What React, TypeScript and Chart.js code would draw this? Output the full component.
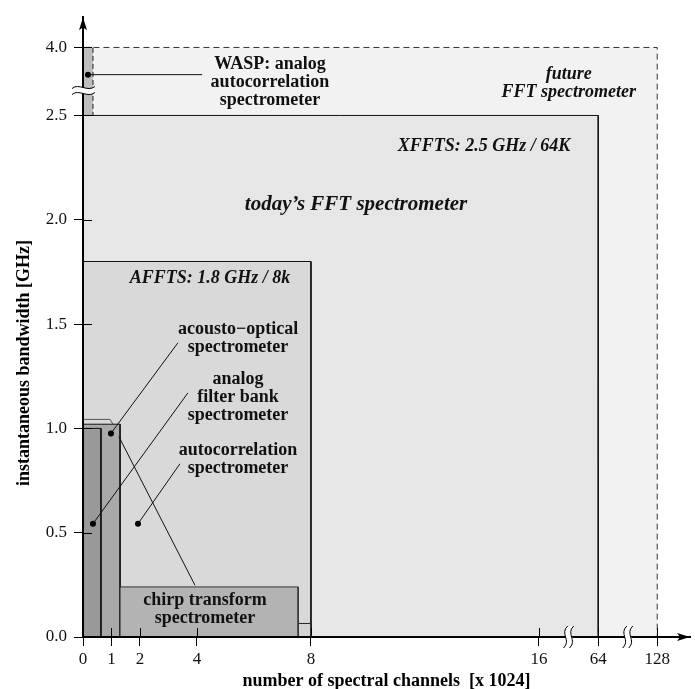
import React, { useEffect, useRef } from "react";
import { Chart, registerables } from "chart.js";

Chart.register(...registerables);

const FONT = '"Liberation Serif", "Times New Roman", serif';

// axes: real values and their labels
const xTicks = [0, 1, 2, 4, 8, 16, 64, 128];
const xTickLabels = ["0", "1", "2", "4", "8", "16", "64", "128"];
const yTicks = [0, 0.5, 1.0, 1.5, 2.0, 2.5, 4.0];
const yTickLabels = ["0.0", "0.5", "1.0", "1.5", "2.0", "2.5", "4.0"];
const xBreaks = [40, 96];
const yBreaks = [3.05];

// spectrometer regions, back to front
// channels [x 1024] from / to, bandwidth [GHz] at left and right top corner
const regionNames = [
  "future FFT spectrometer",
  "WASP",
  "XFFTS",
  "AFFTS",
  "chirp base",
  "autocorrelation",
  "acousto-optical",
  "analog filter bank",
  "chirp transform",
];
const regionFrom = [0, 0, 0, 0, 1.3, 0, 0, 0, 1.3];
const regionTo = [128, 0.35, 64, 8, 8, 1.05, 1.3, 0.63, 7.55];
const regionTop = [4.0, 4.0, 2.5, 1.8, 0.065, 1.043, 1.02, 1.0, 0.24];
const regionTopRight = [4.0, 4.0, 2.5, 1.8, 0.065, 1.02, 1.02, 1.0, 0.24];

const regionFill = ["#f2f2f2", "#bdbdbd", "#e6e6e6", "#d9d9d9", "#d3d3d3", "#d9d9d9", "#a9a9a9", "#999999", "#b3b3b3"];
const regionBorder = ["#333", "#222", "#111", "#111", "#222", "#555", "#111", "#111", "#333"];
const regionDash = [[6, 4], [5, 3], [], [], [], [], [], [], []];

// leader lines from a point in a region to its label
const leaderFromX = [0.175, 0.98, 0.35, 1.93, 1.26];
const leaderFromY = [3.4, 0.976, 0.543, 0.543, 0.96];
const leaderToX = [4.18, 3.33, 3.68, 3.4, 3.93];
const leaderToY = [3.4, 1.41, 1.17, 0.83, 0.248];
const leaderDot = [true, true, true, true, false];

// labels: lines, anchor (centre x, first baseline y) in data values
const labelLines = [
  ["WASP: analog", "autocorrelation", "spectrometer"],
  ["future", "FFT spectrometer"],
  ["XFFTS: 2.5 GHz / 64K"],
  ["today\u2019s FFT spectrometer"],
  ["AFFTS: 1.8 GHz / 8k"],
  ["acousto\u2212optical", "spectrometer"],
  ["analog", "filter bank", "spectrometer"],
  ["autocorrelation", "spectrometer"],
  ["chirp transform", "spectrometer"],
];
const labelX = [6.56, 40.2, 14.07, 9.58, 4.46, 5.44, 5.44, 5.44, 4.28];
const labelY = [3.53, 3.31, 2.329, 2.048, 1.695, 1.452, 1.214, 0.871, 0.152];
const labelFont = [
  "bold 18px", "italic bold 18px", "italic bold 18px", "italic bold 21px", "italic bold 18px",
  "bold 18px", "bold 18px", "bold 18px", "bold 18px",
];

// broken axes: real value -> axis position
const fx = (v: number) =>
  v <= 16 ? v : v <= 64 ? 16 + ((v - 16) / 48) * 2.08 : 18.08 + ((v - 64) / 64) * 2.07;
const fy = (v: number) => (v <= 2.5 ? v : 2.5 + ((v - 2.5) / 1.5) * 0.326);

const overlay = {
  id: "overlay",
  afterDatasetsDraw(chart: any) {
    const { ctx, scales } = chart;
    ctx.save();
    ctx.fillStyle = "#111";
    ctx.textAlign = "center";
    ctx.textBaseline = "alphabetic";
    labelLines.forEach((lines, i) => {
      ctx.font = `${labelFont[i]} ${FONT}`;
      const px = scales.x.getPixelForValue(fx(labelX[i]));
      const py = scales.y.getPixelForValue(fy(labelY[i]));
      lines.forEach((t, k) => ctx.fillText(t, px, py + k * 18));
    });
    ctx.restore();
  },
  afterDraw(chart: any) {
    const { ctx, scales, chartArea } = chart;
    const ax = chartArea.left;
    const ay = chartArea.bottom;
    ctx.save();
    ctx.strokeStyle = "#000";
    ctx.lineWidth = 1;
    // inner half of the ticks
    ctx.beginPath();
    xTicks.forEach((t) => {
      const p = Math.round(scales.x.getPixelForValue(fx(t))) + 0.5;
      ctx.moveTo(p, ay);
      ctx.lineTo(p, ay - 9);
    });
    yTicks.forEach((t) => {
      const p = Math.round(scales.y.getPixelForValue(fy(t))) + 0.5;
      ctx.moveTo(ax, p);
      ctx.lineTo(ax + 9, p);
    });
    ctx.stroke();

    // axis breaks
    xBreaks.forEach((b) => {
      const p = scales.x.getPixelForValue(fx(b));
      const curve = (x: number, start: boolean) => {
        if (start) ctx.moveTo(x + 2, ay - 11);
        ctx.bezierCurveTo(x - 6, ay - 3, x + 6, ay + 3, x - 2, ay + 11);
      };
      ctx.beginPath();
      curve(p - 3, true);
      ctx.lineTo(p + 5, ay + 11);
      ctx.bezierCurveTo(p + 9, ay + 3, p - 3, ay - 3, p + 5, ay - 11);
      ctx.closePath();
      ctx.fillStyle = "#fff";
      ctx.fill();
      ctx.beginPath();
      curve(p - 3, true);
      ctx.moveTo(p + 5, ay - 11);
      ctx.bezierCurveTo(p - 3, ay - 3, p + 9, ay + 3, p + 1, ay + 11);
      ctx.stroke();
    });
    yBreaks.forEach((b) => {
      const p = scales.y.getPixelForValue(fy(b));
      ctx.beginPath();
      ctx.moveTo(ax - 11, p - 2);
      ctx.bezierCurveTo(ax - 4, p - 8, ax + 4, p + 2, ax + 12, p - 4);
      ctx.lineTo(ax + 12, p + 2);
      ctx.bezierCurveTo(ax + 4, p + 8, ax - 4, p - 2, ax - 11, p + 4);
      ctx.closePath();
      ctx.fillStyle = "#fff";
      ctx.fill();
      ctx.beginPath();
      ctx.moveTo(ax - 11, p - 2);
      ctx.bezierCurveTo(ax - 4, p - 8, ax + 4, p + 2, ax + 12, p - 4);
      ctx.moveTo(ax - 11, p + 4);
      ctx.bezierCurveTo(ax - 4, p - 2, ax + 4, p + 8, ax + 12, p + 2);
      ctx.stroke();
    });

    // arrow heads
    ctx.fillStyle = "#000";
    ctx.beginPath();
    ctx.moveTo(ax, chartArea.top);
    ctx.lineTo(ax - 4, chartArea.top + 13);
    ctx.lineTo(ax, chartArea.top + 10);
    ctx.lineTo(ax + 4, chartArea.top + 13);
    ctx.closePath();
    ctx.fill();
    ctx.beginPath();
    ctx.moveTo(chartArea.right, ay);
    ctx.lineTo(chartArea.right - 13, ay - 4);
    ctx.lineTo(chartArea.right - 10, ay);
    ctx.lineTo(chartArea.right - 13, ay + 4);
    ctx.closePath();
    ctx.fill();

    // y axis title
    ctx.translate(24, 363);
    ctx.rotate(-Math.PI / 2);
    ctx.font = `bold 18px ${FONT}`;
    ctx.textAlign = "center";
    ctx.textBaseline = "middle";
    ctx.fillText("instantaneous bandwidth [GHz]", 0, 0);
    ctx.restore();
  },
};

export default function App() {
  const canvasRef = useRef<HTMLCanvasElement>(null);

  useEffect(() => {
    const n = regionNames.length;
    const regionSets = regionNames.map((name, i) => {
      const pts = [
        { x: fx(regionFrom[i]), y: 0 },
        { x: fx(regionFrom[i]), y: fy(regionTop[i]) },
      ];
      if (regionTopRight[i] !== regionTop[i]) {
        pts.push({ x: fx(regionTo[i] - 0.1), y: fy(regionTop[i]) });
      }
      pts.push({ x: fx(regionTo[i]), y: fy(regionTopRight[i]) }, { x: fx(regionTo[i]), y: 0 });
      return {
        type: "line",
        label: name,
        data: pts,
        fill: "origin",
        backgroundColor: regionFill[i],
        borderColor: regionBorder[i],
        borderWidth: 1,
        borderDash: regionDash[i],
        pointRadius: 0,
        showLine: true,
        tension: 0,
        order: 100 + n - i,
      };
    });
    const leaderSets = leaderFromX.map((x0, i) => ({
      type: "line",
      label: "leader " + i,
      data: [
        { x: fx(x0), y: fy(leaderFromY[i]) },
        { x: fx(leaderToX[i]), y: fy(leaderToY[i]) },
      ],
      borderColor: "#111",
      borderWidth: 1,
      pointRadius: 0,
      fill: false,
      showLine: true,
      order: 2,
    }));
    const dotSet = {
      type: "line",
      label: "points",
      data: leaderFromX
        .map((x0, i) => ({ x: fx(x0), y: fy(leaderFromY[i]) }))
        .filter((_, i) => leaderDot[i]),
      showLine: false,
      pointRadius: 3,
      pointBackgroundColor: "#000",
      pointBorderWidth: 0,
      fill: false,
      order: 1,
    };

    const chart = new Chart(canvasRef.current!, {
      type: "line",
      data: { datasets: [...regionSets, ...leaderSets, dotSet] as any },
      options: {
        animation: false,
        responsive: true,
        maintainAspectRatio: false,
        events: [],
        layout: { padding: { top: 13, right: 5, left: 0, bottom: 0 } },
        plugins: { legend: { display: false }, tooltip: { enabled: false } },
        scales: {
          x: {
            type: "linear",
            min: 0,
            max: 21.3,
            afterBuildTicks: (scale: any) => {
              scale.ticks = xTicks.map((t) => ({ value: fx(t) }));
            },
            afterFit: (scale: any) => {
              scale.height = 52;
            },
            ticks: {
              callback: (_v: any, i: number) => xTickLabels[i],
              color: "#111",
              font: { family: FONT, size: 17 },
              padding: 3,
              maxRotation: 0,
              autoSkip: false,
              z: 1,
            },
            grid: { drawOnChartArea: false, tickLength: 9, color: "#000", z: 1 },
            border: { display: true, color: "#000", width: 2, z: 1 },
            title: {
              display: true,
              text: "number of spectral channels  [x 1024]",
              color: "#000",
              font: { family: FONT, size: 18, weight: "bold", lineHeight: 0.9 },
              padding: 0,
            },
          },
          y: {
            type: "linear",
            min: 0,
            max: 2.971,
            afterBuildTicks: (scale: any) => {
              scale.ticks = yTicks.map((t) => ({ value: fy(t) }));
            },
            afterFit: (scale: any) => {
              scale.width = 83;
            },
            ticks: {
              callback: (_v: any, i: number) => yTickLabels[i],
              color: "#111",
              font: { family: FONT, size: 17 },
              padding: 7,
              autoSkip: false,
              z: 1,
            },
            grid: { drawOnChartArea: false, tickLength: 9, color: "#000", z: 1 },
            border: { display: true, color: "#000", width: 2, z: 1 },
          },
        },
      },
      plugins: [overlay],
    } as any);

    return () => chart.destroy();
  }, []);

  return (
    <div style={{ position: "fixed", left: 0, top: 0, width: 695, height: 689, background: "#fff" }}>
      <canvas ref={canvasRef}></canvas>
    </div>
  );
}
